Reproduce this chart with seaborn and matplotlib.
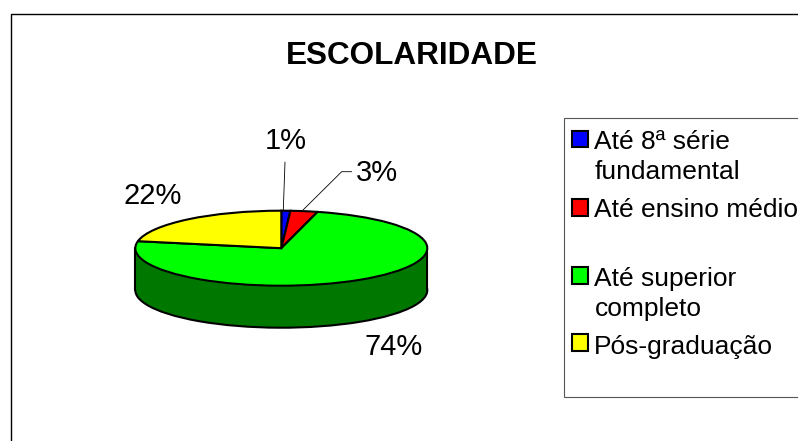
import matplotlib
matplotlib.use("Agg")
import matplotlib.pyplot as plt
import seaborn as sns
from matplotlib.legend_handler import HandlerPatch
from matplotlib.patches import Patch, Rectangle

categories = ["Até 8ª série\nfundamental", "Até ensino médio\n ", "Até superior\ncompleto", "Pós-graduação\n "]
values = [1, 3, 74, 22]
top_colors = ["#0000FF", "#FF0000", "#00FF00", "#FFFF00"]
side_colors = ["#000080", "#800000", "#007800", "#808000"]
title = "ESCOLARIDADE"

W, H = 798, 441
CX, CY, RX, RY, DEPTH = 281.3, 248.2, 146.0, 37.5, 42.0
LW = 1.5

sns.set_theme(style="white")
plt.rcParams["font.family"] = ["Liberation Sans", "DejaVu Sans"]

fig = plt.figure(figsize=(W / 100, H / 100), dpi=100, facecolor="white")
ax = fig.add_axes([0, 0, 1, 1])


def X(p):
    return (p - CX) / RX


def Y(p):
    return (CY - p) / RY


edge = {"edgecolor": "black", "linewidth": LW}
d = DEPTH / RY
ax.pie(values, colors=sns.color_palette(side_colors), startangle=90, counterclock=False,
       center=(0, -d), radius=1, wedgeprops=edge, frame=True)
ax.add_patch(Rectangle((-1, -d), 2, d, facecolor=side_colors[2], edgecolor="none", zorder=1.5))
ax.add_patch(Rectangle((-0.8, -d - 0.2), 1.6, 0.25, facecolor=side_colors[2], edgecolor="none", zorder=1.5))
ax.plot([-1, -1], [0, -d], color="black", lw=LW, zorder=1.6)
ax.plot([1, 1], [0, -d], color="black", lw=LW, zorder=1.6)
wedges, _ = ax.pie(values, colors=sns.color_palette(top_colors), startangle=90, counterclock=False,
                   center=(0, 0), radius=1, wedgeprops=edge, frame=True)
for w in wedges:
    w.set_zorder(2)

ax.set_aspect("auto")
ax.set_xlim(X(0), X(W))
ax.set_ylim(Y(H), Y(0))
ax.axis("off")

# chart area border (left and top only are in view)
ax.plot([X(11.5), X(11.5), X(W + 5)], [Y(H + 5), Y(14), Y(14)], color="black", lw=1.0, zorder=3, clip_on=False)

# title
ax.text(X(412), Y(56), title, ha="center", va="center", fontsize=22.7, fontweight="bold", color="black")

# data labels
label_pos = [(286, 141), (376.5, 173), (394, 347), (153, 196)]
for v, (px, py) in zip(values, label_pos):
    ax.text(X(px), Y(py), f"{v}%", ha="center", va="center", fontsize=21, color="black", zorder=4)

# leader lines
ax.plot([X(283.3), X(285)], [Y(210), Y(162)], color="black", lw=0.6, zorder=3)
ax.plot([X(303), X(341.7), X(351.7)], [Y(210), Y(171.7), Y(171.7)], color="black", lw=0.6, zorder=3)


# legend: keys line up with the first text line of each entry
def first_line_key(legend, orig_handle, xdescent, ydescent, width, height, fontsize):
    return Rectangle((-xdescent - 2.6, -ydescent + fontsize * 0.68), width, height)


handles = [Patch(facecolor=c, edgecolor="black", linewidth=LW) for c in top_colors]
leg = ax.legend(handles, categories, loc="upper left",
                bbox_to_anchor=(563.5 / W, 1 - 118 / H), bbox_transform=fig.transFigure,
                fontsize=19, frameon=True, fancybox=False, edgecolor="#555555", framealpha=1,
                borderaxespad=0, borderpad=0.45, handlelength=0.61, handleheight=0.61,
                handletextpad=0.11, labelspacing=0.56, labelcolor="black",
                handler_map={Patch: HandlerPatch(patch_func=first_line_key)})
for t in leg.get_texts():
    t.set_linespacing(1.3)
leg.get_texts()[-1].set_linespacing(1.12)
leg.get_frame().set_linewidth(0.8)
leg.set_zorder(5)

fig.savefig("out.png", dpi=100, facecolor="white")
